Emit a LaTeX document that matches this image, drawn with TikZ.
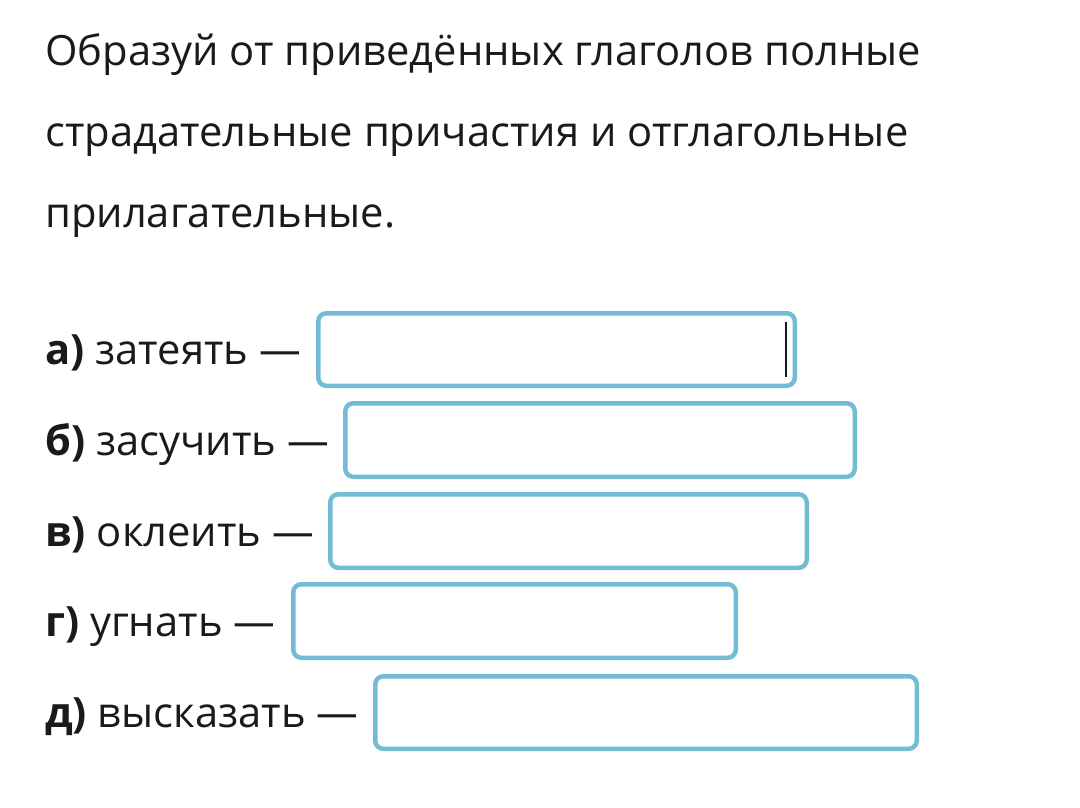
\documentclass[tikz,border=0pt]{standalone}
\usepackage{fontspec}
\setmainfont{Open Sans}
\usetikzlibrary{positioning}

\definecolor{fieldblue}{RGB}{116,188,214}
\definecolor{inkgrey}{RGB}{26,26,26}

\begin{document}
\begin{tikzpicture}[x=1pt,y=-1pt,
    line node/.style={anchor=base west,inner sep=0pt,text=inkgrey,font=\fontsize{41.7}{50}\selectfont},
    field/.style={draw=fieldblue,line width=4.5pt,rounded corners=8pt,inner sep=0pt}]
    \useasboundingbox[fill=white] (0,0) rectangle (1080,807);

    % task text
    \node[line node] (t1) at (45,65) {Образуй от приведённых глаголов полные};
    \node[line node] (t2) at (45,146) {страдательные причастия и отглагольные};
    \node[line node] (t3) at (45,227) {прилагательные.};

    % verbs
    \node[line node] (1) at (45,364) {\textbf{а)} затеять —};
    \node[line node] (2) at (45,455) {\textbf{б)} засучить —};
    \node[line node] (3) at (45,546) {\textbf{в)} оклеить —};
    \node[line node] (4) at (45,636) {\textbf{г)} угнать —};
    \node[line node] (5) at (45,727) {\textbf{д)} высказать —};

    % answer fields
    \node[field,minimum width=476.5pt,minimum height=72.5pt] (f1) at (556.5,349.5) {};
    \node[field,minimum width=509.5pt,minimum height=73.5pt] (f2) at (600,440) {};
    \node[field,minimum width=476.5pt,minimum height=73.5pt] (f3) at (568.5,531) {};
    \node[field,minimum width=442.5pt,minimum height=73.5pt] (f4) at (514.5,621) {};
    \node[field,minimum width=541.5pt,minimum height=72.5pt] (f5) at (646,712.5) {};

    % cursor
    \coordinate (c1) at (786,322);
    \coordinate (c2) at (786,377);
    \draw[inkgrey,line width=2.5pt] (c1) -- (c2);
\end{tikzpicture}
\end{document}
